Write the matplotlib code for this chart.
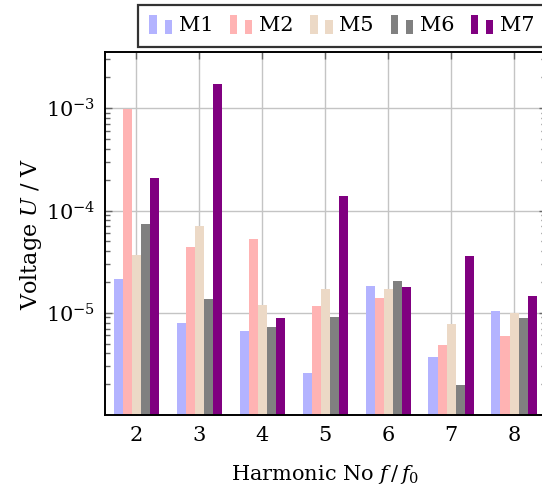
import numpy as np
import matplotlib as mpl
mpl.use('agg')
import matplotlib.pyplot as plt
from matplotlib.patches import Rectangle
from matplotlib.legend_handler import HandlerBase

# harmonic numbers and measured voltages (V)
harmonics = [2, 3, 4, 5, 6, 7, 8]
series_names = ['M1', 'M2', 'M5', 'M6', 'M7']
m1 = [2.14e-5, 8.0e-6, 6.6e-6, 2.6e-6, 1.81e-5, 3.7e-6, 1.03e-5]
m2 = [9.8e-4, 4.4e-5, 5.25e-5, 1.17e-5, 1.38e-5, 4.8e-6, 5.9e-6]
m5 = [3.7e-5, 7.0e-5, 1.2e-5, 1.69e-5, 1.72e-5, 7.7e-6, 1.0e-5]
m6 = [7.4e-5, 1.36e-5, 7.3e-6, 9.1e-6, 2.05e-5, 1.97e-6, 8.9e-6]
m7 = [2.09e-4, 1.74e-3, 8.9e-6, 1.39e-4, 1.79e-5, 3.6e-5, 1.46e-5]
colours = ['#b3b3ff', '#ffb3b3', '#ecd9c6', '#808080', '#800080']

plt.rcParams['font.family'] = 'DejaVu Serif'
plt.rcParams['mathtext.fontset'] = 'dejavuserif'
plt.rcParams['font.size'] = 15


class TwoBarHandler(HandlerBase):
  # pgfplots style ybar legend: a tall bar and a shorter one
  def create_artists(self, legend, orig_handle, xdescent, ydescent,
                     width, height, fontsize, trans):
    c = orig_handle.get_facecolor()
    w = width * 0.32
    r1 = Rectangle((-xdescent, -ydescent - 0.15 * height), w, height * 1.25,
                   facecolor=c, edgecolor='none', transform=trans)
    r2 = Rectangle((-xdescent + width * 0.66, -ydescent - 0.15 * height), w,
                   height * 0.95, facecolor=c, edgecolor='none', transform=trans)
    return [r1, r2]


fig = plt.figure(figsize=(5.42, 4.92), dpi=100)
ax = fig.add_axes([105 / 542, 1 - 415 / 492, 440.5 / 542, 363 / 492])

x = np.array(harmonics, dtype=float)
bw = 0.144
bottom = 1e-7
handles = []
for i, (name, vals) in enumerate(zip(series_names, [m1, m2, m5, m6, m7])):
  vals = np.array(vals)
  b = ax.bar(x + (i - 2) * bw, vals - bottom, bw, bottom=bottom,
             color=colours[i], edgecolor='none', label=name, zorder=2)
  handles.append(b.patches[0])

ax.set_yscale('log')
ax.set_xlim(1.5, 8.5)
ax.set_ylim(1e-6, 3.55e-3)
ax.set_xticks(harmonics)
ax.set_yticks([1e-5, 1e-4, 1e-3])
ax.set_axisbelow(True)
ax.grid(True, which='major', color='#c4c4c4', linewidth=1.0)

ax.tick_params(axis='both', which='major', direction='in', length=5,
               width=1.0, color='0.4', top=True, right=True)
ax.tick_params(axis='y', which='minor', direction='in', length=3.5,
               width=1.0, color='0.4', left=True, right=True)
ax.tick_params(axis='x', which='minor', bottom=False, top=False)
ax.tick_params(axis='y', which='major', pad=7)
ax.tick_params(axis='x', which='major', pad=8)
for s in ax.spines.values():
  s.set_linewidth(1.4)
  s.set_color('black')

ax.set_xlabel(r'Harmonic No $f\,/\,f_0$', labelpad=13)
ax.set_ylabel(r'Voltage $U$ / V', labelpad=1, fontsize=16)

leg = fig.legend(handles, series_names, loc='upper left',
                 bbox_to_anchor=(138 / 542, 1 - 5 / 492),
                 ncol=5, frameon=True, fancybox=False,
                 handler_map={Rectangle: TwoBarHandler()},
                 handlelength=1.1, handletextpad=0.3, columnspacing=0.8,
                 borderpad=0.55, borderaxespad=0)
leg.get_frame().set_edgecolor('black')
leg.get_frame().set_linewidth(1.6)

plt.savefig('out.png', dpi=100)
